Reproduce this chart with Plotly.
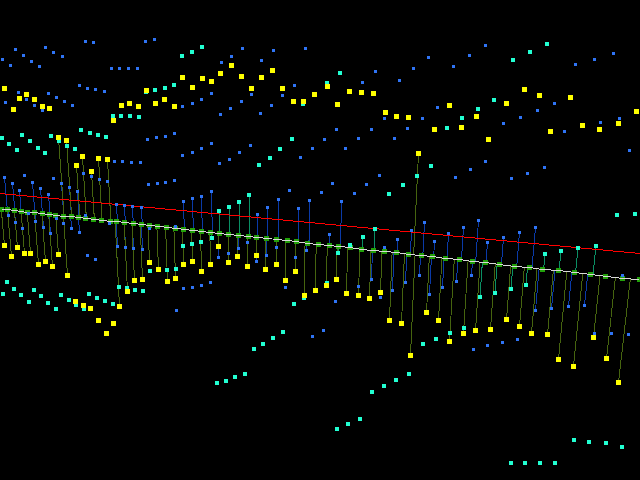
"""Residual point cloud around a fitted line, drawn on a black screen."""

import numpy as np
import plotly.graph_objects as go

# fitted line, read at the screen edges and thirds
red_x = [0, 213, 426, 640]
red_y = [193.5, 213.5, 233.5, 253.5]

# projected points on the regression line
green_x = [1, 7, 14, 21, 27, 34, 42, 49, 55, 63, 71, 78, 85, 93, 101, 110, 116, 124, 133, 141, 149, 157, 166, 175, 183, 192, 201, 210,
           219, 228, 238, 248, 256, 266, 276, 287, 296, 307, 318, 329, 338, 350, 361, 373, 384, 396, 408, 421,
           432, 445, 459, 472, 485, 499, 514, 529, 542, 558, 574, 590, 605, 622, 639]
green_y = [209, 209, 210, 211, 212, 212, 213, 214, 215, 216, 216, 217, 218, 219, 220, 221, 221, 222, 223, 224, 225, 226, 227, 228, 229, 230, 231, 232,
           233, 234, 235, 236, 237, 238, 239, 240, 241, 243, 244, 245, 246, 247, 249, 250, 251, 252, 254, 255,
           256, 258, 259, 261, 262, 264, 266, 267, 269, 270, 272, 274, 276, 278, 279]

# yellow points without / with a residual stem
yellow_free_x = [4, 19, 26, 34, 13, 42, 49, 121, 129, 138, 146, 113, 155, 164, 174, 182, 192, 202, 211, 220, 231, 241, 251, 261, 272, 282, 293, 303, 314, 327, 337, 349, 361, 373, 385, 396, 408,
                 449, 434, 461, 476, 488, 506, 524, 539, 570, 550, 582, 599, 618, 636, 75, 83, 90, 98, 113, 106]
yellow_free_y = [88, 98, 94, 99, 109, 106, 108, 105, 103, 106, 90, 120, 103, 99, 106, 77, 87, 78, 81, 73, 65, 76, 88, 77, 70, 88, 101, 101, 94, 86, 104, 91, 92, 93, 112, 116, 117,
                 105, 129, 127, 116, 139, 103, 89, 95, 97, 131, 125, 129, 123, 111, 301, 305, 308, 320, 323, 333]
yellow_stem_x = [58, 66, 82, 98, 107, 76, 91, 418, 4, 17, 11, 24, 30, 38, 45, 52, 58, 67, 149, 158, 134, 142, 127, 119, 167, 175, 183, 192, 201, 210,
                 218, 228, 237, 247, 256, 265, 276, 285, 295, 304, 315, 326, 336, 346, 358, 369, 380, 389, 401, 410,
                 426, 438, 449, 463, 475, 490, 506, 519, 531, 547, 558, 573, 593, 606, 618]
yellow_stem_y = [137, 140, 156, 158, 159, 165, 171, 153, 245, 247, 256, 253, 253, 264, 261, 266, 254, 275, 262, 269, 280, 279, 291, 306, 281, 278, 264, 261, 271, 264,
                 246, 262, 256, 266, 255, 269, 264, 280, 271, 295, 290, 285, 279, 293, 295, 298, 292, 320, 323, 355,
                 312, 320, 341, 333, 330, 329, 319, 326, 333, 334, 359, 366, 337, 358, 382]

# blue points without / with a residual stem
blue_free_x = [15, 23, 31, 39, 2, 10, 45, 53, 62, 85, 93, 145, 154, 111, 119, 128, 137, 79, 87, 95, 104, 18, 48, 26, 56, 64, 5, 34, 72, 42, 182, 192, 201, 211, 147, 156, 165, 174, 182, 192, 201, 211, 114, 122, 131, 140,
               242, 273, 305, 231, 221, 261, 375, 413, 362, 399, 294, 282, 251, 241, 230, 271, 220, 260, 384, 422, 336, 371, 407, 324, 358, 394, 312, 345, 250, 239, 300, 229, 219,
               485, 469, 428, 453, 613, 594, 575, 554, 537, 520, 503, 437, 619, 600, 564, 629,
               24, 53, 83, 91, 99, 107, 148, 157, 165, 174, 87, 95, 109, 149, 175, 183, 192, 201, 210, 176, 285, 335, 323, 312, 358, 380, 473, 487, 502, 517, 594, 611, 628, 622,
               289, 321, 332, 354, 366, 379, 455, 470, 485, 511, 527, 544]
blue_free_y = [49, 55, 61, 66, 59, 65, 47, 52, 56, 41, 42, 41, 39, 68, 68, 68, 68, 85, 88, 89, 91, 92, 93, 99, 97, 101, 102, 105, 105, 110, 106, 103, 99, 93, 139, 137, 136, 133, 155, 152, 148, 143, 161, 161, 162, 162,
               48, 50, 48, 56, 62, 60, 71, 68, 82, 80, 85, 95, 94, 101, 108, 105, 114, 113, 118, 118, 129, 129, 128, 139, 138, 138, 148, 148, 145, 152, 157, 159, 163,
               45, 55, 57, 66, 53, 59, 64, 103, 110, 117, 123, 107, 118, 122, 131, 150,
               175, 178, 173, 176, 179, 181, 184, 183, 182, 180, 255, 259, 223, 228, 226, 288, 287, 285, 282, 310, 287, 301, 330, 336, 286, 297, 349, 345, 342, 339, 333, 333, 334, 275,
               190, 192, 183, 193, 184, 175, 177, 169, 161, 178, 173, 167]
blue_stem_x = [4, 12, 19, 32, 40, 48, 61, 69, 77, 116, 124, 132, 141, 183, 192, 201, 211, 257, 267, 278, 298, 309, 341, 329, 384, 397, 411, 424, 434, 448, 463, 478, 487, 503, 519, 535,
               8, 15, 22, 28, 35, 43, 50, 56, 63, 71, 79, 85, 117, 125, 133, 142, 218, 228, 238, 247, 256, 266, 276, 295, 306, 371, 392, 405, 419, 429, 442, 456, 471, 535, 551, 568, 584]
blue_stem_y = [177, 183, 190, 182, 188, 194, 183, 187, 191, 204, 205, 206, 207, 201, 198, 196, 191, 214, 207, 199, 208, 200, 201, 234, 247, 239, 230, 222, 241, 233, 227, 220, 242, 237, 232, 227,
               215, 222, 228, 213, 221, 227, 233, 218, 223, 228, 232, 215, 246, 247, 248, 249, 257, 253, 248, 242, 261, 255, 247, 257, 250, 279, 290, 282, 275, 294, 287, 281, 275, 310, 308, 306, 305]

# cyan points without / with a residual stem
cyan_free_x = [182, 192, 202, 155, 165, 174, 146, 113, 121, 130, 139, 81, 90, 98, 106, 51, 22, 2, 9, 30, 17, 38, 45, 75, 59, 67,
               340, 327, 303, 292, 280, 270, 259, 417, 389, 403, 547, 530, 513, 494, 478, 462, 447, 431,
               7, 14, 3, 21, 29, 34, 41, 48, 56, 61, 69, 76, 84, 89, 97, 105, 113, 119, 127, 135, 143, 150, 158, 167, 176,
               327, 304, 294, 283, 273, 263, 254, 217, 226, 235, 245, 337, 348, 360, 372, 384, 396, 409, 574, 589, 606, 622, 511, 525, 540, 555, 423, 436, 450, 464, 617, 635]
cyan_free_y = [56, 52, 47, 90, 88, 85, 92, 116, 116, 116, 117, 130, 133, 135, 137, 136, 135, 138, 144, 141, 150, 148, 153, 149, 141, 146,
               73, 83, 104, 139, 149, 158, 165, 176, 194, 185, 44, 52, 60, 100, 109, 118, 128, 166,
               282, 289, 294, 295, 302, 290, 296, 303, 309, 295, 300, 305, 309, 294, 298, 301, 304, 287, 288, 290, 291, 271, 270, 270, 269,
               283, 298, 304, 332, 338, 344, 349, 383, 381, 377, 374, 429, 424, 419, 392, 386, 380, 374, 440, 442, 443, 447, 463, 463, 463, 463, 344, 339, 333, 328, 215, 214]
cyan_stem_x = [219, 229, 239, 249, 375, 363, 350, 338, 183, 192, 201, 212, 545, 561, 578, 596, 526, 511, 495, 480]
cyan_stem_y = [211, 207, 202, 195, 229, 237, 245, 253, 246, 244, 242, 238, 254, 251, 248, 246, 285, 289, 293, 297]


def centre(values):
    return [v + 0.5 for v in values]


def stems(xs, ys):
    """Join each point to the place it projects onto the line."""
    out_x, out_y = [], []
    for x, y in zip(xs, ys):
        # the residual direction leans with the camera perspective
        lean = 0.09 - 0.00033 * x
        base_y = np.interp(x, green_x, green_y) + 0.5
        base_x = x + lean * (base_y - y)
        base_y = np.interp(base_x, green_x, green_y) + 0.5
        out_x += [x, x + lean * (base_y - y), None]
        out_y += [y, base_y, None]
    return out_x, out_y


fig = go.Figure()

# Residual stems
for xs, ys, color in [
    (centre(blue_stem_x), centre(blue_stem_y), "#0a3aa8"),
    (cyan_stem_x, cyan_stem_y, "#0a8f64"),
    (centre(yellow_stem_x), centre(yellow_stem_y), "#46640f"),
]:
    sx, sy = stems(xs, ys)
    fig.add_trace(go.Scatter(x=sx, y=sy, mode="lines", line=dict(color=color, width=1)))

# Fitted line
fig.add_trace(go.Scatter(x=red_x, y=red_y, mode="lines", line=dict(color="#ff0000", width=1)))

# Projections and the line through them
fig.add_trace(go.Scatter(
    x=centre(green_x), y=centre(green_y), mode="markers",
    marker=dict(symbol="square", size=5, color="#22a00a", line=dict(width=0)),
))
fig.add_trace(go.Scatter(
    x=centre(green_x), y=centre(green_y), mode="lines",
    line=dict(color="#d8d8d8", width=1),
))

# Point clouds
for xs, ys, color, size in [
    (centre(blue_free_x + blue_stem_x), centre(blue_free_y + blue_stem_y), "#2f74f5", 3),
    (cyan_free_x + cyan_stem_x, cyan_free_y + cyan_stem_y, "#22ffd2", 4),
    (centre(yellow_free_x + yellow_stem_x), centre(yellow_free_y + yellow_stem_y), "#ffff00", 5),
]:
    fig.add_trace(go.Scatter(
        x=xs, y=ys, mode="markers",
        marker=dict(symbol="square", size=size, color=color, line=dict(width=0)),
    ))

fig.update_layout(
    width=640,
    height=480,
    margin=dict(l=0, r=0, t=0, b=0),
    showlegend=False,
    plot_bgcolor="#000000",
    paper_bgcolor="#000000",
    xaxis=dict(range=[0, 640], visible=False),
    yaxis=dict(range=[480, 0], visible=False),
)

# the original has no antialiasing and sits flush with the window
crisp = (
    "document.body.style.margin='0';document.body.style.background='#000';"
    "document.querySelectorAll('.scatterlayer path').forEach("
    "p=>p.setAttribute('shape-rendering','crispEdges'));"
)
fig.write_html("out.html", post_script=crisp, config=dict(displayModeBar=False))
